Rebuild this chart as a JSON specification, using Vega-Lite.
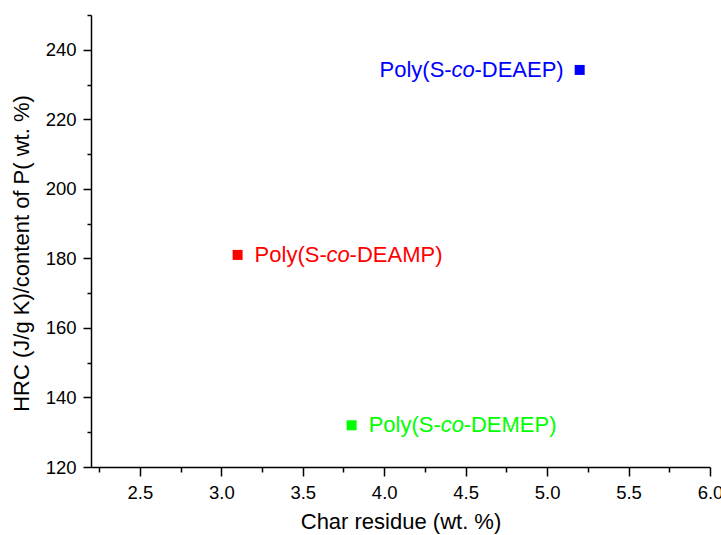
{
  "$schema": "https://vega.github.io/schema/vega-lite/v6.json",
  "width": 619,
  "height": 452,
  "autosize": {"type": "none"},
  "padding": {"left": 91, "top": 15, "right": 11, "bottom": 68},
  "background": "white",
  "config": {
    "view": {"stroke": null},
    "font": "Liberation Sans",
    "axis": {"grid": false, "domainColor": "black", "domainWidth": 1.5, "tickColor": "black", "tickWidth": 1.5, "labelColor": "black", "titleColor": "black", "labelFont": "Liberation Sans", "titleFont": "Liberation Sans", "labelFontSize": 18.5, "titleFontSize": 22, "titleFontWeight": "normal", "labelOverlap": false, "labelFlush": false}
  },
  "data": {
    "values": [
      {"monomer": "DEAEP", "char": 5.2, "hrc": 234.2},
      {"monomer": "DEAMP", "char": 3.1, "hrc": 181},
      {"monomer": "DEMEP", "char": 3.8, "hrc": 132}
    ]
  },
  "transform": [{"calculate": "'-' + datum.monomer + ')'", "as": "tail"}],
  "encoding": {
    "x": {
      "field": "char", "type": "quantitative",
      "scale": {"domain": [2.2, 6.0], "nice": false, "zero": false},
      "axis": {
        "title": "Char residue (wt. %)",
        "values": [2.25, 2.5, 2.75, 3.0, 3.25, 3.5, 3.75, 4.0, 4.25, 4.5, 4.75, 5.0, 5.25, 5.5, 5.75, 6.0],
        "labelExpr": "datum.value % 0.5 === 0 ? format(datum.value, '.1f') : ''",
        "tickSize": {"condition": {"test": "datum.value % 0.5 === 0", "value": 9}, "value": 5},
        "labelPadding": 7,
        "titleBaseline": "alphabetic",
        "titleY": 61
      }
    },
    "y": {
      "field": "hrc", "type": "quantitative",
      "scale": {"domain": [120, 250], "nice": false, "zero": false},
      "axis": {
        "title": "HRC (J/g K)/content of P( wt. %)",
        "values": [120, 130, 140, 150, 160, 170, 180, 190, 200, 210, 220, 230, 240, 250],
        "labelExpr": "datum.value % 20 === 0 ? format(datum.value, 'd') : ''",
        "tickSize": {"condition": {"test": "datum.value % 20 === 0", "value": 8}, "value": 4},
        "labelPadding": 7,
        "titleBaseline": "alphabetic",
        "titleAlign": "center",
        "titleAngle": -90,
        "titleX": -63,
        "titleY": 238
      }
    },
    "color": {
      "field": "monomer", "type": "nominal",
      "scale": {"domain": ["DEAEP", "DEAMP", "DEMEP"], "range": ["#0000FF", "#FF0000", "#00FF00"]},
      "legend": null
    }
  },
  "layer": [
    {"mark": {"type": "point", "shape": "square", "filled": true, "size": 100, "opacity": 1}},
    {"transform": [{"filter": "datum.monomer === 'DEAEP'"}],
     "mark": {"type": "text", "text": "Poly(S-", "align": "right", "baseline": "middle", "dx": -128, "fontSize": 22}},
    {"transform": [{"filter": "datum.monomer === 'DEAEP'"}],
     "mark": {"type": "text", "text": "co", "fontStyle": "italic", "align": "right", "baseline": "middle", "dx": -105, "fontSize": 22}},
    {"transform": [{"filter": "datum.monomer === 'DEAEP'"}],
     "mark": {"type": "text", "align": "right", "baseline": "middle", "dx": -16, "fontSize": 22},
     "encoding": {"text": {"field": "tail"}}},
    {"transform": [{"filter": "datum.monomer !== 'DEAEP'"}],
     "mark": {"type": "text", "text": "Poly(S-", "align": "left", "baseline": "middle", "dx": 17, "fontSize": 22}},
    {"transform": [{"filter": "datum.monomer !== 'DEAEP'"}],
     "mark": {"type": "text", "text": "co", "fontStyle": "italic", "align": "left", "baseline": "middle", "dx": 89, "fontSize": 22}},
    {"transform": [{"filter": "datum.monomer !== 'DEAEP'"}],
     "mark": {"type": "text", "align": "left", "baseline": "middle", "dx": 112, "fontSize": 22},
     "encoding": {"text": {"field": "tail"}}}
  ]
}
